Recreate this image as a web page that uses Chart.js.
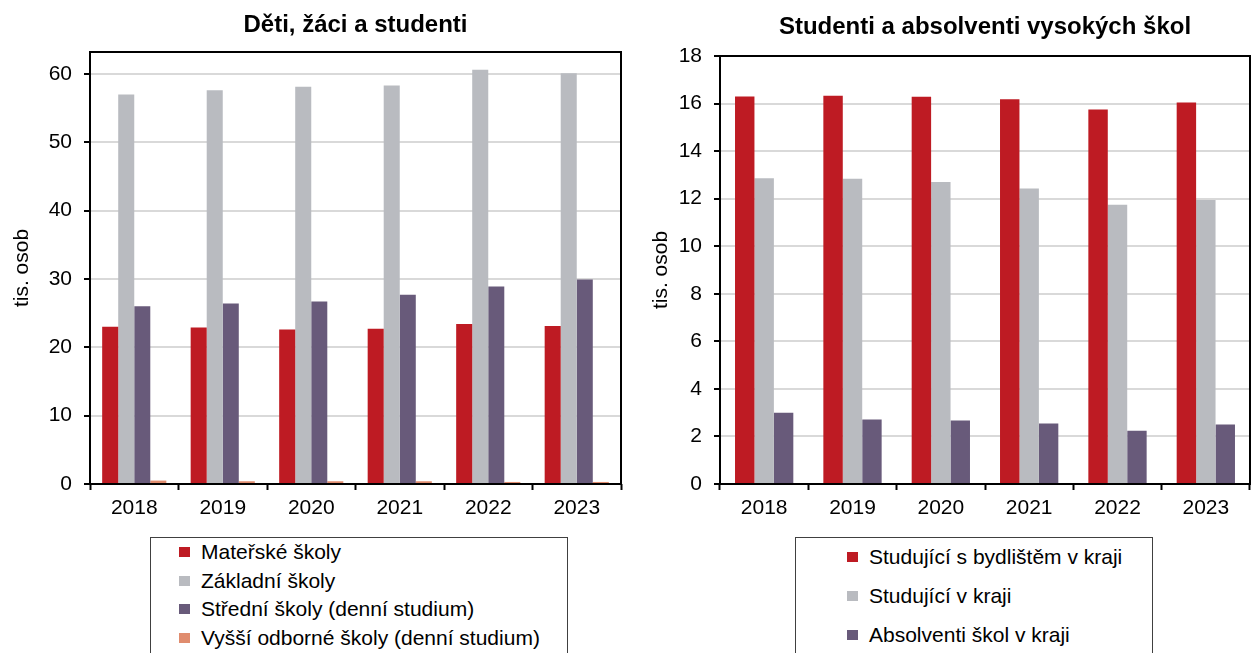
<!DOCTYPE html>
<html lang="cs">
<head>
<meta charset="utf-8">
<script src="https://cdn.jsdelivr.net/npm/chart.js@4.4.0/dist/chart.umd.min.js"></script>
<style>
  html, body { margin: 0; padding: 0; background: #fff; overflow: hidden; }
  body { width: 1251px; height: 653px; position: relative; font-family: "Liberation Sans", Arial, sans-serif; }
  .wrap { position: absolute; top: 0; height: 530px; }
  #leftWrap { left: 0; width: 640px; }
  #rightWrap { left: 640px; width: 611px; }
  .legend { position: absolute; border: 1px solid #404040; background: #fff; color: #000; font-size: 21px; }
  #leftLegend { left: 150px; top: 537px; width: 416px; height: 130px; }
  #rightLegend { left: 795px; top: 537px; width: 356px; height: 130px; }
  .item { position: absolute; height: 26px; display: flex; align-items: center; white-space: nowrap; }
  .sw { display: inline-block; width: 11px; height: 10px; margin-right: 11px; }
</style>
</head>
<body>
<div class="wrap" id="leftWrap"><canvas id="leftChart"></canvas></div>
<div class="wrap" id="rightWrap"><canvas id="rightChart"></canvas></div>
<div class="legend" id="leftLegend"></div>
<div class="legend" id="rightLegend"></div>
<script>
const years = ['2018', '2019', '2020', '2021', '2022', '2023'];

// Děti, žáci a studenti (tis. osob)
const materske = [23.0, 22.9, 22.6, 22.7, 23.4, 23.1];
const zakladni = [57.0, 57.6, 58.1, 58.3, 60.6, 60.1];
const stredni = [26.0, 26.4, 26.7, 27.7, 28.9, 29.9];
const vyssi = [0.5, 0.4, 0.4, 0.4, 0.3, 0.3];
const leftTicks = [0, 10, 20, 30, 40, 50, 60];

// Studenti a absolventi vysokých škol (tis. osob)
const studujiciBydliste = [16.30, 16.33, 16.29, 16.18, 15.75, 16.04];
const studujiciKraj = [12.86, 12.84, 12.70, 12.43, 11.74, 11.94];
const absolventi = [3.00, 2.71, 2.67, 2.54, 2.24, 2.50];
const rightTicks = [0, 2, 4, 6, 8, 10, 12, 14, 16, 18];

const colors = {
  red: '#BE1B23',
  gray: '#B9BBC0',
  purple: '#685A7A',
  orange: '#E08C6E'
};

Chart.defaults.font.family = '"Liberation Sans", Arial, sans-serif';
Chart.defaults.color = '#000';
Chart.defaults.animation = false;

// black frame around the plot area, title centred over the plot
const framePlugin = {
  id: 'frame',
  afterLayout(chart) {
    const t = chart.titleBlock;
    if (t) {
      t.left = chart.chartArea.left;
      t.right = chart.chartArea.right;
      t.width = t.right - t.left;
    }
  },
  afterDatasetsDraw(chart) {
    const { ctx, chartArea: a } = chart;
    ctx.save();
    ctx.strokeStyle = '#000';
    ctx.lineWidth = 2;
    ctx.strokeRect(a.left, a.top, a.right - a.left, a.bottom - a.top);
    ctx.restore();
  }
};

function makeChart(id, opts) {
  return new Chart(document.getElementById(id).getContext('2d'), {
    type: 'bar',
    data: {
      labels: years,
      datasets: opts.datasets.map(d => ({
        label: d.label,
        data: d.data,
        backgroundColor: d.color,
        borderWidth: 0,
        barPercentage: 1,
        categoryPercentage: opts.catPct
      }))
    },
    options: {
      responsive: true,
      maintainAspectRatio: false,
      layout: { padding: { left: 0, right: opts.padRight, top: 0, bottom: 0 } },
      plugins: {
        legend: { display: false },
        tooltip: { enabled: false },
        title: {
          display: true,
          text: opts.title,
          color: '#000',
          font: { size: 24, weight: 'bold' },
          padding: opts.titlePad
        }
      },
      scales: {
        x: {
          grid: { offset: true, drawOnChartArea: false, tickLength: 6, tickColor: '#000', tickWidth: 2 },
          border: { display: false },
          ticks: { color: '#000', font: { size: 21 }, padding: 6, maxRotation: 0 },
          afterFit: s => { s.height = 46; }
        },
        y: {
          min: 0,
          max: opts.max,
          afterBuildTicks: s => { s.ticks = opts.ticks.map(v => ({ value: v })); },
          grid: { color: '#d9d9d9', lineWidth: 2, tickColor: '#000', tickLength: 6, tickWidth: 2 },
          border: { display: false },
          ticks: { color: '#000', font: { size: 21 }, padding: 12 },
          title: {
            display: true,
            text: 'tis. osob',
            color: '#000',
            font: { size: 21 },
            padding: { top: opts.yTitlePad, bottom: 0 }
          },
          afterFit: s => { s.width = opts.axisW; }
        }
      }
    },
    plugins: [framePlugin]
  });
}

const leftSeries = [
  { label: 'Mateřské školy', data: materske, color: colors.red },
  { label: 'Základní školy', data: zakladni, color: colors.gray },
  { label: 'Střední školy (denní studium)', data: stredni, color: colors.purple },
  { label: 'Vyšší odborné školy (denní studium)', data: vyssi, color: colors.orange }
];

const rightSeries = [
  { label: 'Studující s bydlištěm v kraji', data: studujiciBydliste, color: colors.red },
  { label: 'Studující v kraji', data: studujiciKraj, color: colors.gray },
  { label: 'Absolventi škol v kraji', data: absolventi, color: colors.purple }
];

makeChart('leftChart', {
  title: 'Děti, žáci a studenti',
  datasets: leftSeries,
  max: 63.2,
  ticks: leftTicks,
  catPct: 0.725,
  axisW: 90,
  padRight: 19,
  titlePad: { top: 11, bottom: 12.2 },
  yTitlePad: 10
});

makeChart('rightChart', {
  title: 'Studenti a absolventi vysokých škol',
  datasets: rightSeries,
  max: 18,
  ticks: rightTicks,
  catPct: 0.66,
  axisW: 80,
  padRight: 1,
  titlePad: { top: 13, bottom: 14.2 },
  yTitlePad: 9
});

// legends built from the same series lists
function buildLegend(id, series, x, firstY, step) {
  const box = document.getElementById(id);
  series.forEach((s, i) => {
    const item = document.createElement('div');
    item.className = 'item';
    item.style.left = x + 'px';
    item.style.top = (firstY + i * step - 13) + 'px';
    const sw = document.createElement('span');
    sw.className = 'sw';
    sw.style.background = s.color;
    item.appendChild(sw);
    item.appendChild(document.createTextNode(s.label));
    box.appendChild(item);
  });
}

buildLegend('leftLegend', leftSeries, 28, 14, 28.5);
buildLegend('rightLegend', rightSeries, 51, 19, 39);
</script>
</body>
</html>
